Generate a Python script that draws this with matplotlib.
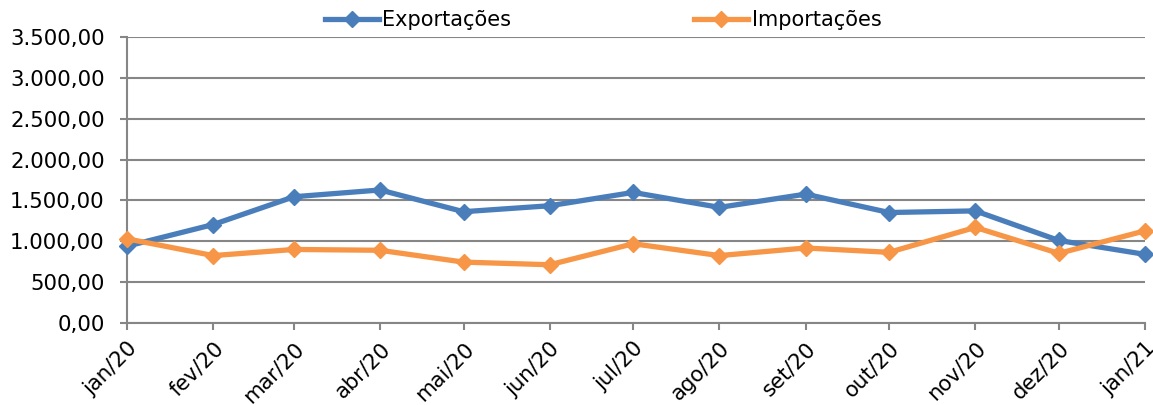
import matplotlib
matplotlib.use('Agg')
import matplotlib.pyplot as plt
import pandas as pd
from matplotlib.ticker import FuncFormatter, MultipleLocator

# Monthly values
months = pd.date_range("2020-01-01", "2021-01-01", freq="MS")
month_labels = ["jan/20", "fev/20", "mar/20", "abr/20", "mai/20", "jun/20",
                "jul/20", "ago/20", "set/20", "out/20", "nov/20", "dez/20", "jan/21"]
exportacoes = [940, 1205, 1545, 1628, 1362, 1435, 1598, 1415, 1577, 1352, 1372, 1010, 840]
importacoes = [1030, 825, 900, 890, 745, 713, 970, 825, 918, 865, 1170, 852, 1128]

BLUE = "#4A7EBB"
ORANGE = "#F79646"
GRID = "#868686"

plt.rcParams['font.family'] = ['DejaVu Sans']

fig = plt.figure(figsize=(11.53, 4.05), dpi=100)
ax = fig.add_axes([127 / 1153, 1 - 323 / 405, (1145 - 127) / 1153, (323 - 37) / 405])

ax.plot(months, exportacoes, color=BLUE, lw=3.8, marker="D", ms=8,
        label="Exportações", solid_joinstyle="round", zorder=3, clip_on=False)
ax.plot(months, importacoes, color=ORANGE, lw=3.8, marker="D", ms=8,
        label="Importações", solid_joinstyle="round", zorder=3, clip_on=False)

ax.set_ylim(0, 3500)
ax.yaxis.set_major_locator(MultipleLocator(500))

def br_fmt(v, pos):
    s = f"{v:,.2f}"
    return s.replace(",", "X").replace(".", ",").replace("X", ".")

ax.yaxis.set_major_formatter(FuncFormatter(br_fmt))
ax.set_xlim(months[0], months[-1])
ax.set_xticks(months)
ax.set_xticklabels(month_labels, rotation=45, ha="right", va="top",
                   rotation_mode="anchor")

ax.grid(axis="y", color=GRID, lw=1.5)
ax.set_axisbelow(True)
for side in ("top", "right"):
    ax.spines[side].set_visible(False)
for side in ("left", "bottom"):
    ax.spines[side].set_color(GRID)
    ax.spines[side].set_linewidth(1.5)

ax.tick_params(axis="both", colors=GRID, width=1.5, length=5, labelsize=15.3,
               labelcolor="black")
ax.tick_params(axis="y", pad=11)
ax.tick_params(axis="x", pad=6)

fig.legend(loc="center", bbox_to_anchor=(603 / 1153, 1 - 20 / 405), ncol=2,
           frameon=False, fontsize=15, handlelength=2.6, handletextpad=0.15,
           columnspacing=8.8, borderaxespad=0)

fig.savefig("out.png", dpi=100)
plt.close(fig)
